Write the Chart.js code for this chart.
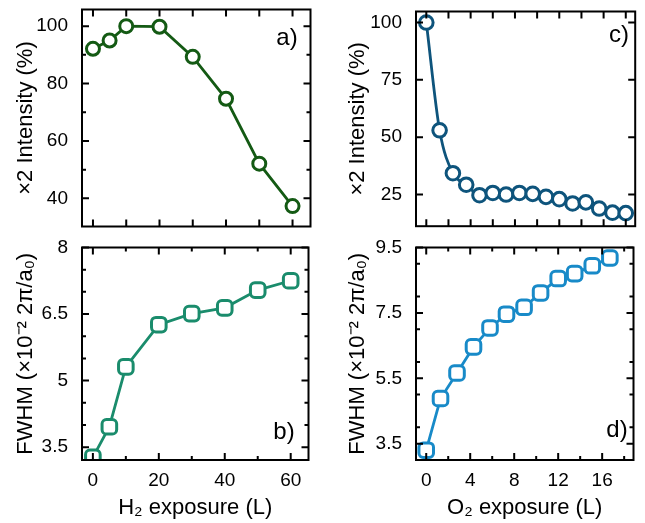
<!DOCTYPE html>
<html>
<head>
<meta charset="utf-8">
<script src="https://cdn.jsdelivr.net/npm/chart.js@4"></script>
<style>
  body { margin: 0; background: #fff; }
  #fig { position: relative; width: 645px; height: 523px; }
  #fig canvas { position: absolute; }
</style>
</head>
<body>
<div id="fig">
  <canvas id="chartA" width="320" height="236" style="left:0;top:0"></canvas>
  <canvas id="chartB" width="320" height="287" style="left:0;top:236px"></canvas>
  <canvas id="chartC" width="325" height="236" style="left:320px;top:0"></canvas>
  <canvas id="chartD" width="325" height="287" style="left:320px;top:236px"></canvas>
</div>
<script>
// ── datos ──
// H2 (paneles a, b)
const h2Exposure = [0, 5, 10, 20, 30, 40, 50, 60];
const h2Intensity = [92.1, 95.0, 100, 99.8, 89.3, 74.7, 52.1, 37.3];
const h2Fwhm = [3.27, 3.96, 5.31, 6.26, 6.51, 6.64, 7.04, 7.25];

// O2 (paneles c, d)
const o2ExposureC = [0, 1.2, 2.4, 3.6, 4.8, 6.0, 7.2, 8.4, 9.6, 10.8, 12.0, 13.2, 14.4, 15.6, 16.8, 18.0];
const o2Intensity = [100, 53.0, 34.3, 29.3, 24.7, 25.7, 25.0, 25.7, 25.3, 24.0, 23.0, 21.1, 21.6, 18.9, 17.1, 16.9];
const o2ExposureD = [0, 1.3, 2.8, 4.3, 5.8, 7.3, 8.9, 10.4, 12.0, 13.5, 15.1, 16.7];
const o2Fwhm = [3.30, 4.88, 5.66, 6.46, 7.04, 7.46, 7.67, 8.11, 8.55, 8.70, 8.94, 9.18];

// ticks
const h2TicksTop = [0, 10, 20, 30, 40, 50, 60];
const h2Ticks = [0, 20, 40, 60];
const h2Minor = [10, 30, 50];
const intensityTicksA = [40, 60, 80, 100];
const intensityMinorA = [50, 70, 90];
const fwhmTicksB = [3.5, 5, 6.5, 8];
const fwhmMinorB = [4, 4.5, 5.5, 6, 7, 7.5];
const o2Ticks = [0, 4, 8, 12, 16];
const o2Minor = [2, 6, 10, 14, 18];
const o2TicksTop = [0, 2, 4, 6, 8, 10, 12, 14, 16, 18];
const intensityTicksC = [25, 50, 75, 100];
const fwhmTicksD = [3.5, 5.5, 7.5, 9.5];
const fwhmMinorD = [4, 5, 6, 7, 8, 9];

Chart.defaults.font.family = '"Liberation Sans", Arial, sans-serif';
Chart.defaults.color = '#000';

// marco negro con ticks hacia dentro en los 4 lados + etiqueta del panel
const frameTicks = {
  id: 'frameTicks',
  afterDraw(chart, args, opts) {
    const { ctx, chartArea: a, scales: { x, y } } = chart;
    ctx.save();
    ctx.strokeStyle = '#000';
    ctx.lineWidth = 2;
    const drawX = (vals, len) => vals.forEach(v => {
      const px = x.getPixelForValue(v);
      ctx.beginPath();
      ctx.moveTo(px, a.bottom); ctx.lineTo(px, a.bottom - len);
      ctx.moveTo(px, a.top); ctx.lineTo(px, a.top + len);
      ctx.stroke();
    });
    const drawY = (vals, len) => vals.forEach(v => {
      const py = y.getPixelForValue(v);
      ctx.beginPath();
      ctx.moveTo(a.left, py); ctx.lineTo(a.left + len, py);
      ctx.moveTo(a.right, py); ctx.lineTo(a.right - len, py);
      ctx.stroke();
    });
    drawX(x.ticks.map(t => t.value), 7);
    drawX(opts.xMinor || [], 4);
    drawY(y.ticks.map(t => t.value), 7);
    drawY(opts.yMinor || [], 4);
    ctx.strokeRect(a.left, a.top, a.right - a.left, a.bottom - a.top);
    if (opts.label) {
      ctx.fillStyle = '#000';
      ctx.font = '24px "Liberation Sans", Arial, sans-serif';
      ctx.textAlign = 'center';
      ctx.textBaseline = 'middle';
      ctx.fillText(opts.label, opts.labelX, opts.labelY);
    }
    ctx.restore();
  }
};

function panel(id, p) {
  return new Chart(document.getElementById(id), {
    type: 'line',
    data: {
      datasets: [{
        data: p.xs.map((v, i) => ({ x: v, y: p.ys[i] })),
        borderColor: p.color,
        borderWidth: 2.8,
        pointStyle: p.pointStyle,
        pointRadius: p.radius,
        pointBorderWidth: 3,
        pointBackgroundColor: '#fff',
        pointBorderColor: p.color,
        tension: p.tension || 0,
        cubicInterpolationMode: p.tension ? 'monotone' : 'default',
        fill: false,
        clip: 0
      }]
    },
    options: {
      responsive: false,
      animation: false,
      layout: { padding: p.padding },
      plugins: {
        legend: { display: false },
        tooltip: { enabled: false },
        frameTicks: { xMinor: p.xMinor, yMinor: p.yMinor, label: p.label, labelX: p.labelX, labelY: p.labelY }
      },
      scales: {
        x: {
          type: 'linear',
          min: p.xMin, max: p.xMax,
          grid: { display: false },
          border: { display: false },
          afterBuildTicks: s => { s.ticks = p.xTicks.map(v => ({ value: v })); },
          ticks: { display: !!p.xTitle, font: { size: 19 }, padding: 1, maxRotation: 0, autoSkip: false, callback: v => String(v) },
          title: { display: !!p.xTitle, text: p.xTitle, font: { size: 22 }, padding: { top: 0, bottom: 2 } },
          afterFit: s => { s.height = p.xTitle ? 63 : 0; s.paddingLeft = 0; s.paddingRight = 0; }
        },
        y: {
          type: 'linear',
          min: p.yMin, max: p.yMax,
          grid: { display: false },
          border: { display: false },
          afterBuildTicks: s => { s.ticks = p.yTicks.map(v => ({ value: v })); },
          ticks: { font: { size: 19 }, padding: 6, autoSkip: false, callback: v => String(v) },
          title: { display: true, text: p.yTitle, font: { size: 22 }, padding: { top: p.yTitlePad, bottom: 0 } },
          afterFit: s => { s.width = p.yWidth; s.paddingTop = 0; s.paddingBottom = 0; }
        }
      }
    },
    plugins: [frameTicks]
  });
}

// a) intensidad H2
panel('chartA', {
  xs: h2Exposure, ys: h2Intensity, color: 'rgb(20, 90, 20)',
  pointStyle: 'circle', radius: 6.5,
  xMin: -3.3, xMax: 65.4, yMin: 30.2, yMax: 105.8,
  xTicks: h2TicksTop, yTicks: intensityTicksA, yMinor: intensityMinorA,
  yTitle: '×2 Intensity (%)', yTitlePad: 13, yWidth: 82,
  padding: { left: 0, top: 9, right: 9, bottom: 4 },
  label: 'a)', labelX: 287, labelY: 38
});

// b) FWHM H2
panel('chartB', {
  xs: h2Exposure, ys: h2Fwhm, color: 'rgb(26, 140, 108)',
  pointStyle: 'rectRounded', radius: 8.5,
  xMin: -3.3, xMax: 65.4, yMin: 3.21, yMax: 8,
  xTicks: h2Ticks, xMinor: h2Minor, yTicks: fwhmTicksB, yMinor: fwhmMinorB,
  xTitle: 'H₂ exposure (L)',
  yTitle: 'FWHM (×10⁻² 2π/a₀)', yTitlePad: 13, yWidth: 82,
  padding: { left: 0, top: 2, right: 9, bottom: 0 },
  label: 'b)', labelX: 284, labelY: 196
});

// c) intensidad O2
panel('chartC', {
  xs: o2ExposureC, ys: o2Intensity, color: 'rgb(14, 84, 124)',
  pointStyle: 'circle', radius: 6.8, tension: 0.4,
  xMin: -0.93, xMax: 18.85, yMin: 11.2, yMax: 104.8,
  xTicks: o2TicksTop, yTicks: intensityTicksC,
  yTitle: '×2 Intensity (%)', yTitlePad: 25, yWidth: 96,
  padding: { left: 0, top: 11.5, right: 2.3, bottom: 6 },
  label: 'c)', labelX: 299, labelY: 35
});

// d) FWHM O2
panel('chartD', {
  xs: o2ExposureD, ys: o2Fwhm, color: 'rgb(24, 138, 200)',
  pointStyle: 'rectRounded', radius: 8.5,
  xMin: -0.93, xMax: 18.85, yMin: 3.0, yMax: 9.5,
  xTicks: o2Ticks, xMinor: o2Minor, yTicks: fwhmTicksD, yMinor: fwhmMinorD,
  xTitle: 'O₂ exposure (L)',
  yTitle: 'FWHM (×10⁻² 2π/a₀)', yTitlePad: 25, yWidth: 96,
  padding: { left: 0, top: 2.3, right: 2.3, bottom: 0 },
  label: 'd)', labelX: 297, labelY: 194
});
</script>
</body>
</html>
